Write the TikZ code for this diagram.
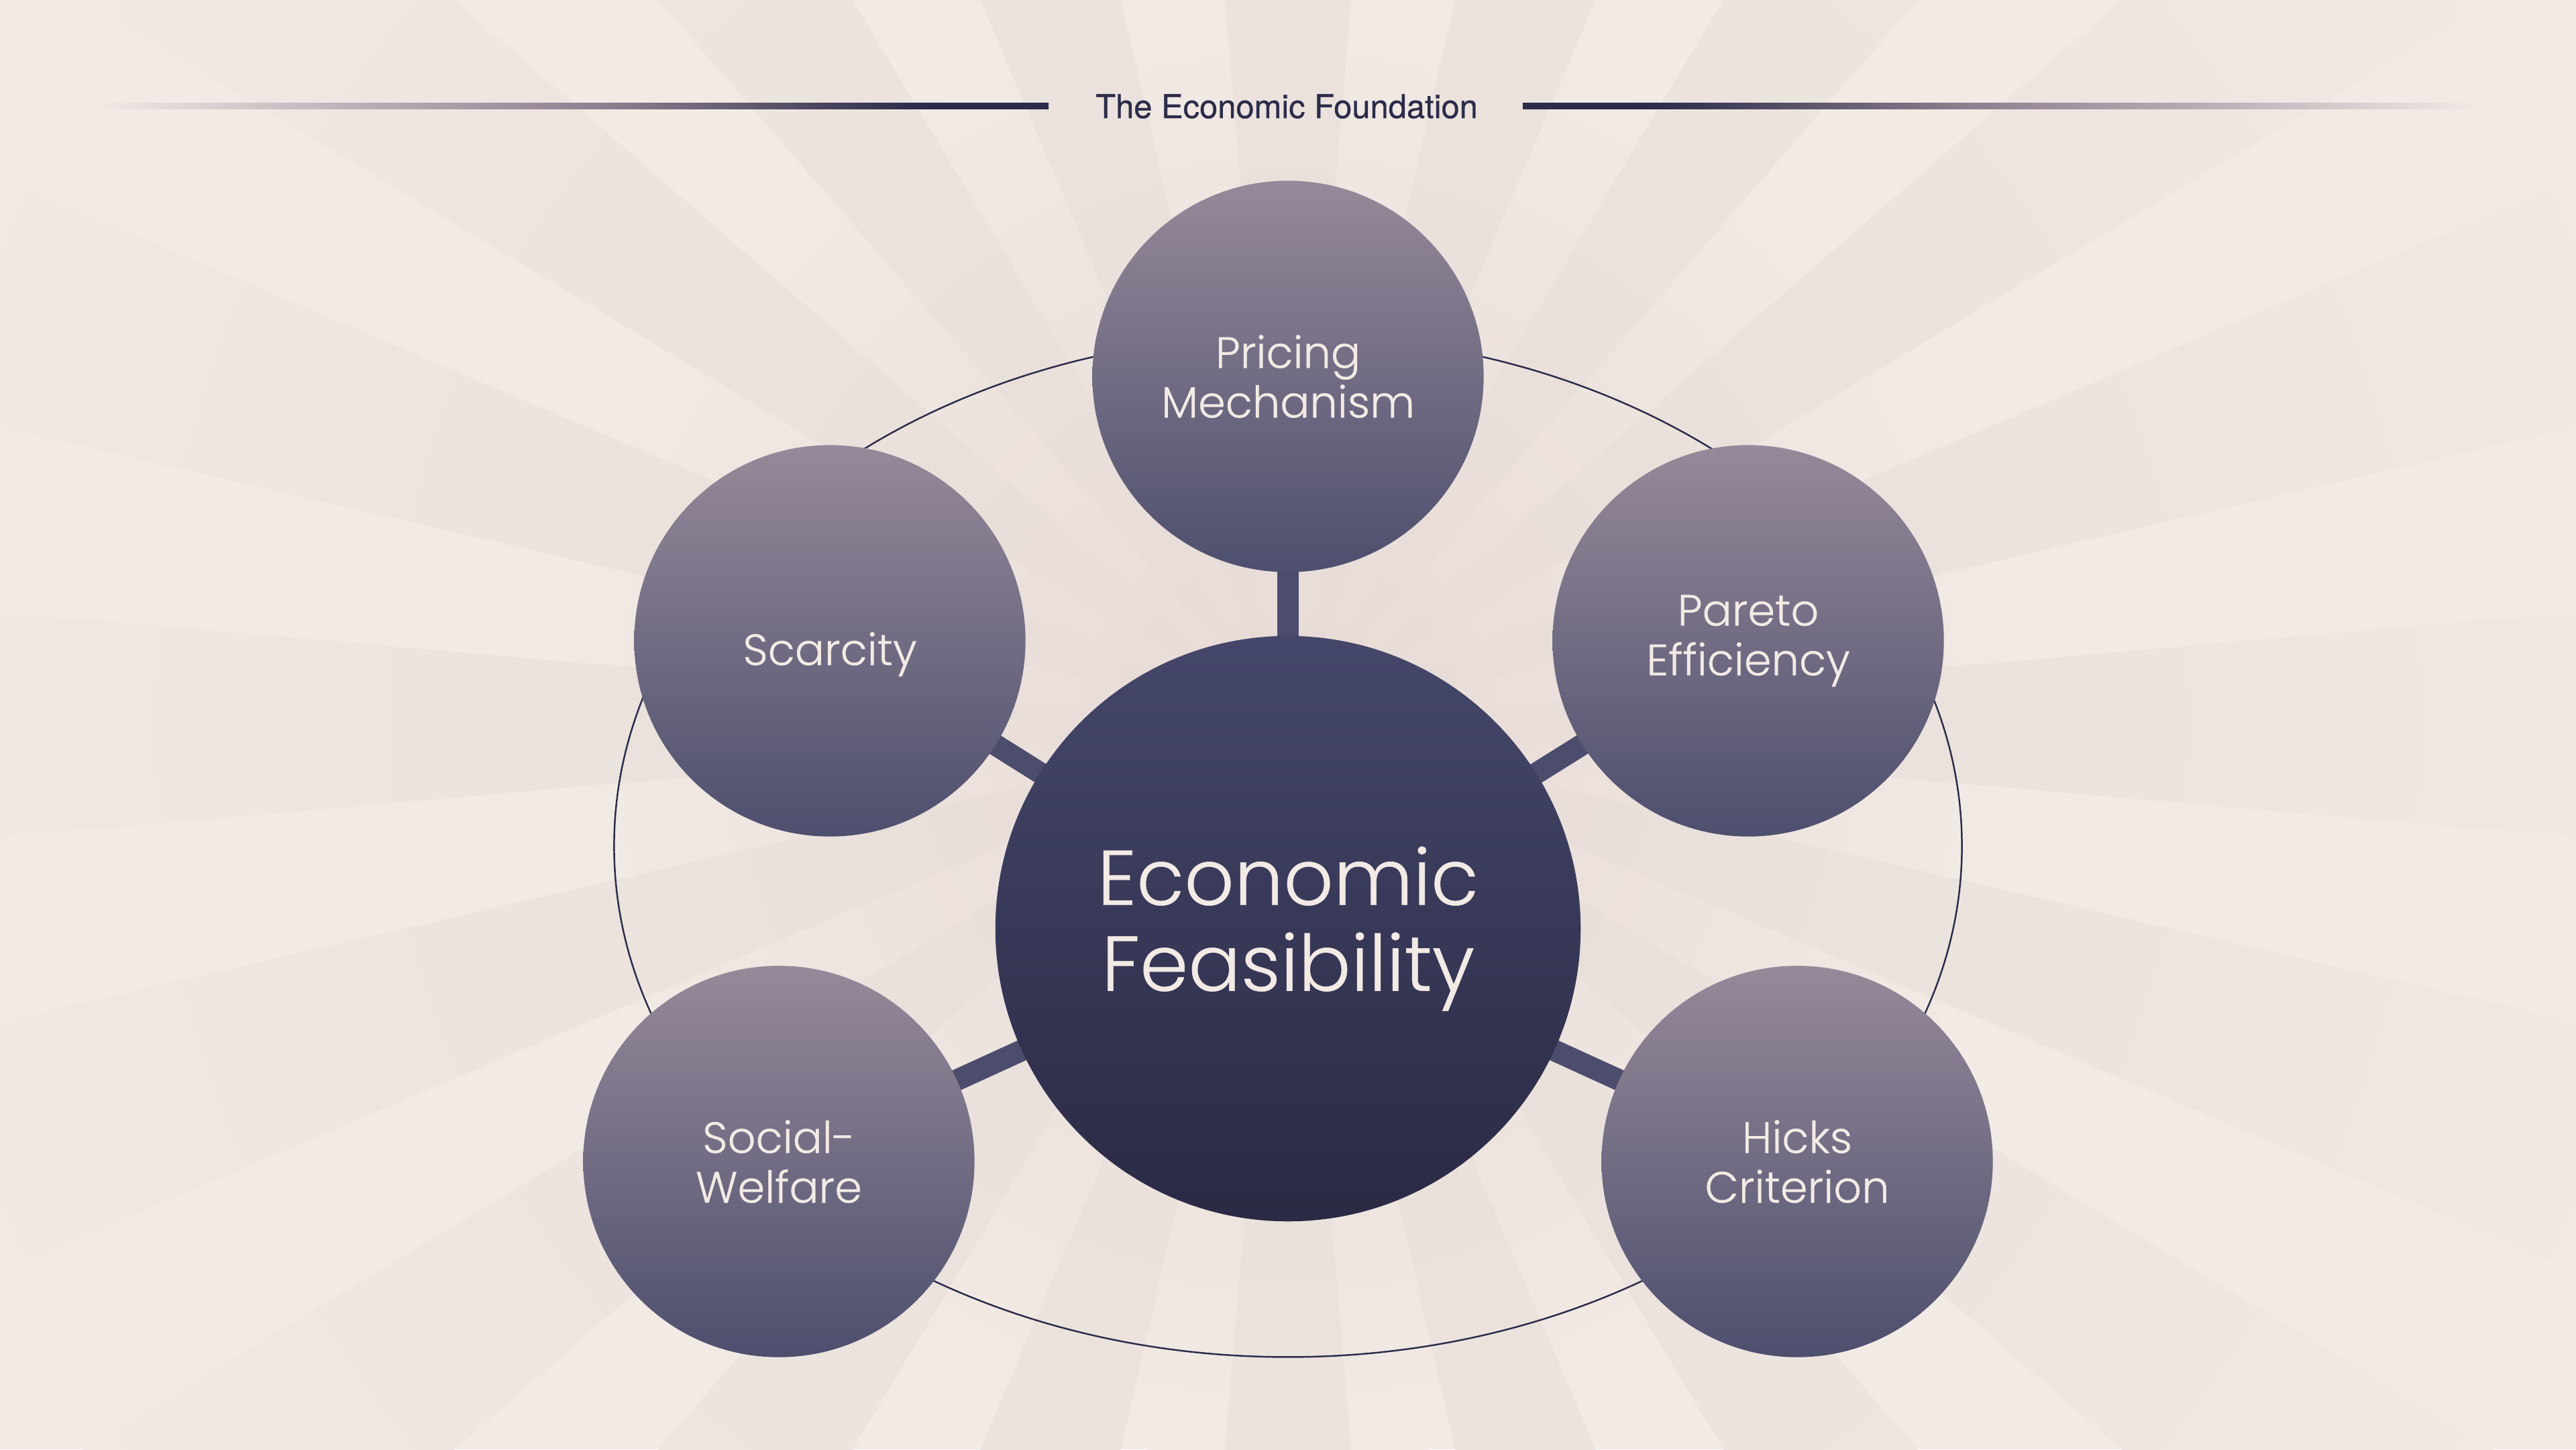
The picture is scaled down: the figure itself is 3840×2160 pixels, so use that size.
\documentclass[tikz,border=0pt]{standalone}
\usepackage{fontspec}
\setmainfont{Poppins}[UprightFont=* Light, UprightFeatures={FakeBold=0.4}]
\newfontfamily\titlefont{TeX Gyre Heros}[FakeBold=0.6]
\definecolor{bgc}{HTML}{F2EAE5}
\definecolor{rayc}{HTML}{EAE1DC}
\definecolor{glowc}{HTML}{E7DAD6}
\definecolor{navy}{HTML}{2B2C4A}
\definecolor{lgrey}{HTML}{BDB3BA}
\definecolor{lmauve}{HTML}{8D7E8F}
\definecolor{mauve}{HTML}{968999}
\definecolor{slate}{HTML}{4D4F6E}
\definecolor{coreTop}{HTML}{45476A}
\definecolor{coreBot}{HTML}{2A2A45}
\definecolor{txt}{HTML}{F3EAE5}
\definecolor{connc}{HTML}{4C4D6D}
\pgfdeclareradialshading{rayfade}{\pgfpoint{0bp}{0bp}}{color(0bp)=(glowc); color(8bp)=(rayc); color(25bp)=(bgc); color(50bp)=(bgc)}
\pgfdeclareradialshading{glowfade}{\pgfpoint{0bp}{0bp}}{color(0bp)=(glowc); color(25bp)=(bgc); color(50bp)=(bgc)}
\pgfdeclareverticalshading{satshade}{100bp}{color(0bp)=(slate); color(25bp)=(slate); color(75bp)=(mauve); color(100bp)=(mauve)}
\pgfdeclareverticalshading{coreshade}{100bp}{color(0bp)=(coreBot); color(25bp)=(coreBot); color(75bp)=(coreTop); color(100bp)=(coreTop)}
\pgfdeclarehorizontalshading{lineL}{100bp}{color(0bp)=(bgc); color(25bp)=(bgc); color(38bp)=(lgrey); color(52bp)=(lmauve); color(68bp)=(navy); color(100bp)=(navy)}
\pgfdeclarehorizontalshading{lineR}{100bp}{color(0bp)=(navy); color(32bp)=(navy); color(48bp)=(lmauve); color(62bp)=(lgrey); color(75bp)=(bgc); color(100bp)=(bgc)}
\pgfdeclarelayer{back}
\pgfdeclarelayer{links}
\pgfsetlayers{back,links,main}
\begin{document}
\begin{tikzpicture}[x=0.01cm,y=-0.01cm,
  sat/.style={circle, minimum size=5.83cm, inner sep=0pt, shade, shading=satshade,
    text=txt, align=center, font=\fontsize{18.6pt}{21.05pt}\selectfont},
  core/.style={circle, minimum size=8.72cm, inner sep=0pt, shade, shading=coreshade,
    text=txt, align=center, font=\fontsize{33pt}{36.4pt}\selectfont},
  link/.style={draw=connc, line width=0.32cm},
  orbit/.style={draw=navy, line width=0.7pt},
  titletext/.style={text=navy, inner sep=0pt, font=\titlefont\fontsize{13.9pt}{16pt}\selectfont}]
\useasboundingbox (0,0) rectangle (3840,2160);
\begin{pgfonlayer}{back}
  \fill[bgc] (0,0) rectangle (3840,2160);
  \shade[shading=glowfade] (1920,1080) circle [radius=11cm];
  \begin{scope}
    \clip foreach \k in {0,...,19} {(1920,1080) -- +({\k*18+85}:2700) -- +({\k*18+95}:2700) -- cycle};
    \shade[shading=rayfade] (1920,1080) circle [radius=23cm];
  \end{scope}
  \path[orbit] (1920,1261) ellipse [x radius=10.04cm, y radius=7.61cm];
  \shade[shading=lineL] (140,153) rectangle (1563,162);
  \shade[shading=lineR] (2270,153) rectangle (3695,162);
\end{pgfonlayer}
\node[titletext, anchor=base] (title) at (1918,176) {The Economic Foundation};
\node[core] (core) at (1920,1384) {Economic\\Feasibility};
\node[sat] (pricing) at (1920,561) {Pricing\\Mechanism};
\node[sat] (scarcity) at (1237,955) {\raisebox{-0.2cm}[\height][\depth]{Scarcity}};
\node[sat] (pareto) at (2606,955) {Pareto\\Efficiency};
\node[sat] (social) at (1161,1731) {Social-\\Welfare};
\node[sat] (hicks) at (2679,1731) {Hicks\\Criterion};
\begin{pgfonlayer}{links}
  \draw[link] (core.center) -- (pricing.center);
  \draw[link] (core.center) -- (scarcity.center);
  \draw[link] (core.center) -- (pareto.center);
  \draw[link] (core.center) -- (social.center);
  \draw[link] (core.center) -- (hicks.center);
\end{pgfonlayer}
\end{tikzpicture}
\end{document}
